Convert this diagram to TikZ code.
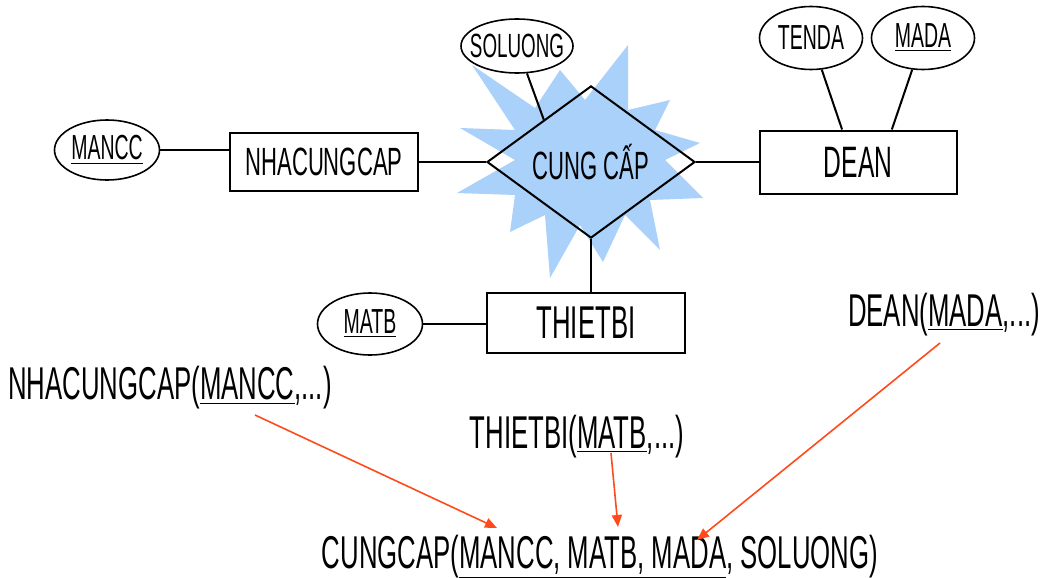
\documentclass[tikz,border=0pt]{standalone}
\usepackage{fontspec}
\setmainfont{Liberation Sans}[FakeStretch=0.56]
\usetikzlibrary{shapes.geometric,arrows.meta,calc}
\definecolor{burst}{HTML}{A9D1FA}
\definecolor{maparrow}{HTML}{FF4A1C}
\begin{document}
\begin{tikzpicture}[x=0.5pt,y=-0.5pt,
  entity/.style={draw,line width=1pt,inner sep=0pt},
  attr/.style={draw,ellipse,line width=0.8pt,inner sep=0pt,font=\fontsize{17.4}{20}\selectfont},
  relation/.style={draw,diamond,line width=1pt,inner sep=0pt,minimum width=104pt,minimum height=54.5pt},
  link/.style={line width=1pt},
  schema/.style={inner sep=0pt,font=\fontsize{23}{27}\selectfont},
  maps/.style={maparrow,line width=0.8pt,-{Triangle[length=6pt,width=5pt]}}]
\useasboundingbox (0,0) rectangle (1044,578);

% starburst behind the relationship
\fill[burst] (472,65) -- (535,108) -- (560,70) -- (585,100) -- (628,45) -- (628,110)
  -- (670,100) -- (655,130) -- (700,143) -- (665,160) -- (703,198) -- (650,200)
  -- (660,250) -- (625,215) -- (603,262) -- (580,225) -- (550,278) -- (545,215)
  -- (510,232) -- (515,195) -- (457,193) -- (515,160) -- (460,128) -- (515,130) -- cycle;

\node[entity,minimum width=94pt,minimum height=29pt,font=\fontsize{19.7}{23}\selectfont] (nhacungcap) at (324,162) {NHACUNGCAP};
\node[entity,minimum width=98.5pt,minimum height=31.5pt,font=\fontsize{22}{26}\selectfont] (dean) at (858,162) {DEAN};
\node[entity,minimum width=99pt,minimum height=30pt,font=\fontsize{23}{27}\selectfont] (thietbi) at (586,323) {THIETBI};
\node[relation,font=\fontsize{19.7}{23}\selectfont] (cungcap) at (591,162) {CUNG CẤP};

\node[attr,minimum width=52.5pt,minimum height=30pt] (mancc) at (107,150) {\underline{MANCC}};
\node[attr,minimum width=52.5pt,minimum height=31pt] (matb) at (370,324) {\underline{MATB}};
\node[attr,inner xsep=-4pt,minimum width=56pt,minimum height=27pt,font=\fontsize{16.8}{19}\selectfont] (soluong) at (517,46) {SOLUONG};
\node[attr,minimum width=51.5pt,minimum height=31.5pt] (tenda) at (811,38) {TENDA};
\node[attr,minimum width=51.5pt,minimum height=31.5pt] (mada) at (923,38) {\underline{MADA}};

\draw[link] (mancc.east) -- (mancc.east -| nhacungcap.west);
\draw[link] (nhacungcap.east) -- (cungcap.west);
\draw[link] (cungcap.east) -- (dean.west);
\draw[link] (cungcap.south) -- (cungcap.south |- thietbi.north);
\draw[link] (matb.east) -- (matb.east -| thietbi.west);
\draw[link] (soluong) -- ($(cungcap.west)!0.55!(cungcap.north)$);
\draw[link] (tenda) -- ($(dean.north west)!0.42!(dean.north east)$);
\draw[link] (mada) -- ($(dean.north west)!0.67!(dean.north east)$);

\node[schema] (nhaRel) at (170,388) {NHACUNGCAP(\underline{MANCC},...)};
\node[schema] (tbRel) at (577,437) {THIETBI(\underline{MATB},...)};
\node[schema] (deanRel) at (944,315) {DEAN(\underline{MADA},...)};
\node[schema] (ccRel) at (600,557) {CUNGCAP(\underline{MANCC, MATB, MADA}, SOLUONG)};

\coordinate (nhaOut) at (255,415);
\coordinate (tbOut) at (611,453);
\coordinate (deanOut) at (940,343);
\coordinate (ccIn1) at (497,528);
\coordinate (ccIn2) at (618,527);
\coordinate (ccIn3) at (697,540);
\draw[maps] (nhaOut) -- (ccIn1);
\draw[maps] (tbOut) -- (ccIn2);
\draw[maps] (deanOut) -- (ccIn3);
\end{tikzpicture}
\end{document}
